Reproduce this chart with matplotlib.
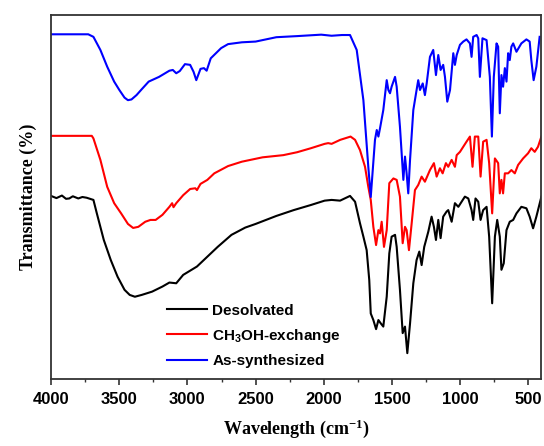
import matplotlib
matplotlib.use("Agg")
import matplotlib.pyplot as plt
from matplotlib.ticker import MultipleLocator

# FTIR spectra (wavenumber in cm-1, transmittance in arbitrary %, offset per sample)
wn_black = [4000, 3960, 3920, 3890, 3866, 3840, 3800, 3770, 3739, 3689, 3664, 3613, 3562, 3512,
            3461, 3423, 3385, 3335, 3259, 3183, 3132, 3082, 3031, 2930, 2854, 2778, 2677, 2576,
            2500, 2348, 2221, 2095, 1994, 1943, 1881, 1808, 1771, 1735, 1710, 1686, 1667, 1656,
            1637, 1617, 1600, 1583, 1564, 1539, 1520, 1503, 1478, 1466, 1442, 1422, 1405, 1388,
            1368, 1344, 1320, 1300, 1283, 1264, 1234, 1210, 1193, 1178, 1161, 1144, 1125, 1100,
            1088, 1063, 1039, 1014, 990, 966, 941, 917, 905, 888, 868, 851, 832, 807, 788, 766,
            746, 729, 710, 698, 681, 661, 637, 612, 588, 552, 515, 491, 466, 442, 405]
t_black = [50.3, 49.7, 50.4, 49.5, 49.6, 50.2, 49.6, 50.0, 49.8, 49.2, 45.5, 38.2, 32.7, 28.1,
           24.5, 23.1, 22.6, 23.1, 24.0, 25.4, 26.5, 26.3, 28.6, 30.9, 33.6, 36.3, 39.6, 41.6,
           42.6, 44.8, 46.4, 47.8, 49.0, 49.2, 49.0, 50.3, 48.7, 42.8, 39.1, 35.4, 27.2, 18.0,
           16.2, 13.7, 16.2, 15.3, 14.4, 22.6, 34.5, 39.1, 39.6, 36.3, 24.5, 12.6, 14.4, 7.1,
           15.3, 26.3, 32.7, 35.0, 31.3, 36.3, 40.5, 44.6, 41.8, 38.2, 43.7, 38.7, 44.6, 46.0,
           46.4, 43.2, 48.3, 47.3, 48.7, 50.1, 49.6, 46.4, 43.7, 49.6, 48.7, 43.7, 46.4, 47.3, 39.1, 20.8,
           39.1, 43.7, 39.1, 30.0, 31.8, 40.9, 43.2, 43.7, 45.5, 47.3, 46.9, 44.6, 41.4, 44.6, 50.1]

wn_red = [4000, 3701, 3689, 3638, 3588, 3537, 3486, 3436, 3398, 3360, 3309, 3271, 3233, 3183,
          3132, 3112, 3102, 3082, 3031, 2980, 2942, 2930, 2904, 2854, 2803, 2702, 2601, 2449,
          2297, 2196, 2095, 1994, 1968, 1943, 1880, 1804, 1771, 1735, 1698, 1674, 1656, 1637,
          1617, 1600, 1588, 1576, 1559, 1539, 1520, 1490, 1466, 1442, 1422, 1405, 1393, 1376,
          1356, 1332, 1308, 1283, 1259, 1222, 1193, 1173, 1149, 1129, 1105, 1088, 1063, 1039,
          1026, 1002, 978, 954, 929, 910, 893, 868, 851, 832, 807, 788, 766, 746, 722, 710,
          698, 686, 673, 649, 625, 600, 576, 539, 503, 479, 454, 430, 405]
t_red = [66.8, 66.8, 66.1, 60.2, 52.8, 48.3, 45.5, 42.6, 41.5, 41.8, 43.2, 43.7, 43.7, 45.1,
         47.3, 48.3, 47.2, 48.3, 50.5, 52.2, 52.4, 51.9, 53.6, 54.7, 56.5, 58.5, 59.7, 60.9,
         61.5, 62.3, 63.4, 64.6, 64.8, 64.6, 65.7, 66.6, 65.7, 62.9, 58.3, 52.8, 49.2, 41.8,
         36.8, 40.9, 40.0, 43.2, 36.3, 40.9, 53.8, 55.1, 54.7, 50.1, 37.3, 41.8, 40.9, 35.4,
         42.8, 51.9, 53.3, 55.6, 54.2, 57.4, 59.3, 55.6, 57.9, 56.5, 59.3, 58.3, 60.2, 58.3,
         61.5, 62.4, 63.8, 65.2, 66.6, 58.3, 66.6, 66.6, 55.6, 65.2, 65.7, 59.3, 45.5, 60.6, 59.3, 51.0,
         54.7, 51.0, 56.5, 56.5, 57.4, 56.5, 58.8, 60.6, 62.0, 63.4, 62.4, 63.8, 66.6]

wn_blue = [4000, 3727, 3689, 3638, 3588, 3537, 3499, 3461, 3436, 3410, 3373, 3335, 3284, 3208,
           3132, 3107, 3082, 3056, 3018, 2980, 2955, 2935, 2904, 2879, 2859, 2829, 2791, 2753,
           2702, 2601, 2500, 2348, 2196, 2019, 1943, 1867, 1808, 1759, 1710, 1674, 1656, 1625,
           1612, 1600, 1588, 1564, 1539, 1527, 1515, 1503, 1478, 1466, 1442, 1417, 1405, 1393,
           1381, 1368, 1344, 1320, 1308, 1295, 1275, 1259, 1246, 1222, 1198, 1178, 1161, 1144,
           1125, 1112, 1095, 1075, 1051, 1039, 1026, 1002, 978, 954, 929, 917, 905, 880, 868,
           856, 837, 807, 783, 768, 754, 734, 722, 710, 698, 686, 673, 661, 649, 637, 625, 612,
           588, 552, 515, 491, 479, 462, 442, 418]
t_blue = [94.7, 94.7, 94.0, 90.4, 85.8, 81.7, 79.4, 77.3, 76.6, 76.8, 78.0, 79.6, 81.7, 83.0,
          84.7, 84.9, 84.0, 84.6, 86.5, 86.3, 84.4, 82.1, 85.2, 85.4, 84.7, 88.1, 89.5, 90.9,
          92.0, 92.5, 92.7, 93.9, 94.2, 94.6, 94.3, 94.5, 94.5, 90.4, 76.6, 58.3, 50.0, 65.7,
          68.4, 66.6, 68.9, 73.9, 82.1, 79.4, 78.5, 80.3, 83.0, 80.3, 69.3, 54.7, 61.1, 56.5,
          51.0, 60.2, 73.9, 79.4, 82.1, 79.4, 81.2, 78.0, 81.2, 88.5, 90.4, 83.5, 89.0, 84.9,
          86.3, 83.0, 76.2, 79.4, 89.5, 86.3, 89.0, 91.8, 92.7, 93.3, 92.2, 88.5, 94.0, 94.5, 93.6,
          83.0, 93.6, 93.1, 83.0, 66.6, 83.0, 92.2, 91.3, 73.0, 83.5, 80.3, 85.4, 81.7, 89.5, 87.6, 91.3, 92.2,
          89.9, 92.2, 93.3, 92.7, 87.6, 82.1, 85.8, 94.0]

labels = ["Desolvated", r"CH$\mathregular{_3}$OH-exchange", "As-synthesized"]
colors = ["black", "#ff0000", "#0000ff"]

fig = plt.figure(figsize=(5.44, 4.46), dpi=100)
ax = fig.add_axes([51 / 544, 67 / 446, 490 / 544, 364 / 446])

lines = []
for wn, t, c, lab in zip([wn_black, wn_red, wn_blue], [t_black, t_red, t_blue], colors, labels):
    ln, = ax.plot(wn, t, color=c, lw=1.5, label=lab)
    lines.append(ln)

ax.set_xlim(4000, 408)
ax.set_ylim(0, 100)
ax.xaxis.set_major_locator(MultipleLocator(500))
ax.xaxis.set_minor_locator(MultipleLocator(250))
ax.set_yticks([])
ax.tick_params(axis="x", which="major", direction="out", length=4, width=1.2, pad=5, color="#333333")
ax.tick_params(axis="x", which="minor", direction="out", length=2.5, width=1.0, color="#333333")
for lbl in ax.get_xticklabels():
    lbl.set_fontfamily("Liberation Sans")
    lbl.set_fontweight("bold")
    lbl.set_fontsize(12)
for sp in ax.spines.values():
    sp.set_color("#333333")
    sp.set_linewidth(1.3)

ax.set_xlabel(r"Wavelength (cm$\mathregular{^{-1}}$)", family="Liberation Serif",
              weight="bold", fontsize=13, labelpad=8)
ax.set_ylabel("Transmittance (%)", family="Liberation Serif", weight="bold",
              fontsize=13, labelpad=10)

ax.legend(handles=lines, loc="upper left", bbox_to_anchor=(0.222, 0.228), frameon=False,
          borderpad=0, handlelength=2.6, handletextpad=0.35, labelspacing=0.6,
          prop={"family": "Liberation Sans", "weight": "bold", "size": 11})

fig.savefig("out.png", dpi=100)
